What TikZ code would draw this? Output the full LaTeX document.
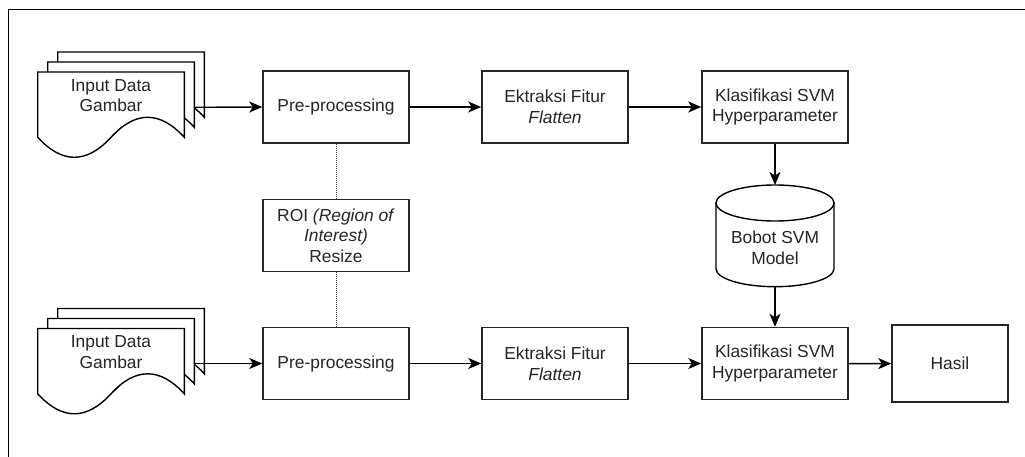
\documentclass[tikz,border=0pt]{standalone}
\usepackage{fontspec}
\setmainfont{Liberation Sans}
\usetikzlibrary{arrows.meta}
\tikzset{
  box/.style={draw=black!85, line width=1.5pt, fill=white, align=center,
    minimum width=146pt, minimum height=72pt, inner sep=2pt,
    text=black!85, font=\fontsize{17.4}{20.6}\selectfont},
  lbl/.style={align=center, text=black!85, font=\fontsize{17.4}{20.6}\selectfont, inner sep=0pt},
  arr/.style={draw=black, line width=1.4pt, -{Stealth[length=13pt,width=11pt,inset=3.5pt]}},
  dotline/.style={draw=black!80, line width=0.9pt, dash pattern=on 1pt off 1pt},
  docpage/.style={draw=black, line width=1.4pt, fill=white},
  frame/.style={draw=black, line width=1.3pt}
}
\newcommand{\docpage}[2]{%
  \path[docpage] (#1,#2) -- ++(146.6,0) -- ++(0,65.3)
    .. controls +(-24.43,-26.67) and +(24.43,-26.67) .. ++(-73.3,0)
    .. controls +(-24.43,26.67) and +(24.43,26.67) .. ++(-73.3,0) -- cycle;%
}
\begin{document}
\begin{tikzpicture}[x=1pt,y=-1pt]
\useasboundingbox (0,0) rectangle (1025,457);
% frame
\draw[frame] (8.3,457) -- (8.3,9.7) -- (1025,9.7);

% top input documents
\docpage{57.7}{52}
\docpage{47.7}{62}
\docpage{37.7}{72}
\node[lbl] (doc1) at (111,95.5) {Input Data\\Gambar};
\coordinate (doc1out) at (194.3,107.3);

% bottom input documents
\docpage{57.7}{308.5}
\docpage{47.7}{318.5}
\docpage{37.7}{328.5}
\node[lbl] (doc2) at (111,352) {Input Data\\Gambar};
\coordinate (doc2out) at (194.3,363.5);

% top row
\node[box] (pre1) at (336,107) {Pre-processing};
\node[box] (ekt1) at (555,107) {Ektraksi Fitur\\\textit{Flatten}};
\node[box] (svm1) at (775,107) {Klasifikasi SVM\\Hyperparameter};

% ROI
\node[box] (roi) at (336,235.7) {ROI \textit{(Region of}\\\textit{Interest)}\\Resize};

% bottom row
\node[box] (pre2) at (336,363.5) {Pre-processing};
\node[box] (ekt2) at (555,363.5) {Ektraksi Fitur\\\textit{Flatten}};
\node[box] (svm2) at (775,363.5) {Klasifikasi SVM\\Hyperparameter};
\node[box, minimum width=116pt, minimum height=77pt] (hasil) at (950,363.7) {Hasil};

% cylinder
\path[docpage] (716,203) -- (716,268.7)
  arc[start angle=180, end angle=360, x radius=59pt, y radius=18pt]
  -- (834,203) -- cycle;
\path[docpage] (775,203) ellipse[x radius=59pt, y radius=18pt];
\coordinate (cyltop) at (775,185);
\coordinate (cylbot) at (775,286.7);
\node[lbl] (cyl) at (775,248) {Bobot SVM\\Model};

% connectors
\draw[arr] (doc1out) -- (pre1.west);
\draw[arr] (pre1) -- (ekt1);
\draw[arr] (ekt1) -- (svm1);
\draw[arr] (svm1.south) -- (cyltop);
\draw[arr] (cylbot) -- (svm2.north);
\draw[arr] (doc2out) -- (pre2.west);
\draw[arr] (pre2) -- (ekt2);
\draw[arr] (ekt2) -- (svm2);
\draw[arr] (svm2) -- (hasil);
\draw[dotline] (pre1.south) -- (roi.north);
\draw[dotline] (roi.south) -- (pre2.north);
\end{tikzpicture}
\end{document}
